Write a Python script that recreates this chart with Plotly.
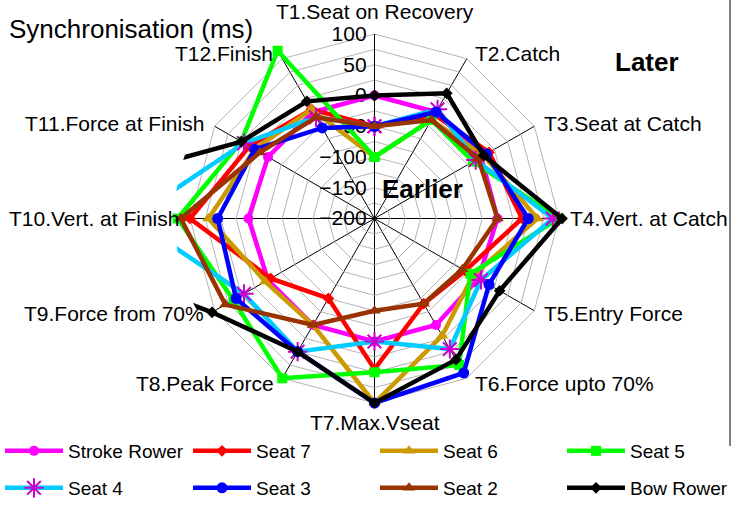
import math
import plotly.graph_objects as go

# ---------------- data ----------------
categories = ["T1.Seat on Recovery", "T2.Catch", "T3.Seat at Catch", "T4.Vert. at Catch",
              "T5.Entry Force", "T6.Force upto 70%", "T7.Max.Vseat", "T8.Peak Force",
              "T9.Force from 70%", "T10.Vert. at Finish", "T11.Force at Finish", "T12.Finish"]

radial_tickvals = [-200, -175, -150, -125, -100, -75, -50, -25, 0, 25, 50, 75, 100]
radial_ticktext = ["\u2212200", "", "\u2212150", "", "\u2212100", "", "\u221250", "", "0", "", "50", "", "100"]

series_names = ["Stroke Rower", "Seat 7", "Seat 6", "Seat 5", "Seat 4", "Seat 3", "Seat 2", "Bow Rower"]

stroke_rower = [0, 0, 0, 0, -5, 0, 0, 0, 0, 5, 0, 0]
seat7 = [-50, -5, 15, 40, -30, -40, 45, -50, -5, 100, 35, 5]
seat6 = [-100, -15, 5, 65, -15, 20, 100, 0, 5, 70, 25, 5]
seat5 = [-100, -15, -15, 100, -20, 75, 50, 100, 65, 120, 50, 115]
seat4 = [-50, 5, -10, 90, 0, 45, 0, 50, 45, 195, 45, -10]
seat3 = [-50, 0, 10, 50, 15, 90, 100, 50, 60, 55, 25, -30]
seat2 = [-50, -15, -5, 0, -35, -40, -50, 0, 80, 115, 15, -10]
bow_rower = [0, 35, 5, 105, 35, 65, 100, 50, 105, 470, 50, 20]

series_values = [stroke_rower, seat7, seat6, seat5, seat4, seat3, seat2, bow_rower]

# ---------------- styles ----------------
line_colors = ["#FF00FF", "#FF0000", "#CC9900", "#00FF00", "#00CCFF", "#0000FF", "#993300", "#000000"]
marker_colors = ["#FF00FF", "#FF0000", "#CC9900", "#00FF00", "#CC00CC", "#0000FF", "#993300", "#000000"]
marker_symbols = ["circle", "diamond", "triangle-up", "square", "asterisk-open", "circle", "triangle-up", "diamond"]
marker_sizes = [10, 9, 11, 10, 16, 11, 11, 9]

W, H = 739, 511
FONT = "Arial, Liberation Sans, sans-serif"
cx, cy = 374.5, 218.5
R1 = 184.5   # radius of the grid (value 100)
R2 = 200.0   # clip radius for data lines
rmin, rmax = -200, 100
rmax2 = rmin + R2 * (rmax - rmin) / R1


def domain(R):
    return dict(x=[(cx - R) / W, (cx + R) / W], y=[(H - cy - R) / H, (H - cy + R) / H])


def px(x, y):
    return x / W, (H - y) / H


fig = go.Figure()

# anchor trace for the grid subplot (invisible)
fig.add_trace(go.Scatterpolar(r=stroke_rower, theta=categories, mode="lines", opacity=0,
                              showlegend=False, hoverinfo="skip", subplot="polar"))

legend_cols = [0, 188, 375, 562]
legend_rows = [451, 488]

for i, (name, vals) in enumerate(zip(series_names, series_values)):
    lg = "legend" if i == 0 else f"legend{i + 1}"
    fig.add_trace(go.Scatterpolar(
        r=vals + vals[:1], theta=categories + categories[:1],
        mode="lines+markers", name=name, subplot="polar2", legend=lg,
        line=dict(color=line_colors[i], width=4.5),
        marker=dict(symbol=marker_symbols[i], size=marker_sizes[i], color=marker_colors[i],
                    line=dict(width=2 if "open" in marker_symbols[i] else 0, color=marker_colors[i])),
    ))

layout_legends = {}
for i in range(8):
    key = "legend" if i == 0 else f"legend{i + 1}"
    lx, ly = px(legend_cols[i % 4], legend_rows[i // 4])
    layout_legends[key] = dict(
        x=lx, y=ly, xanchor="left", yanchor="middle",
        bgcolor="rgba(0,0,0,0)", borderwidth=0, font=dict(family=FONT, size=19, color="black"),
        itemwidth=58,
    )

# category labels placed just outside the outer ring
annotations = []
n = len(categories)
R_lab = 190.0
for i, lab in enumerate(categories):
    th = 2 * math.pi * i / n
    sx, sy = math.sin(th), -math.cos(th)
    x, y = cx + R_lab * sx, cy + R_lab * sy
    if abs(sx) < 1e-6:
        xa = "center"
        ya = "bottom" if sy < 0 else "top"
        y = y - 4 if sy < 0 else y + 1
    else:
        xa = "left" if sx > 0 else "right"
        ya = "middle"
        x = x + 4 if sx > 0 else x - 5
    ax, ay = px(x, y)
    annotations.append(dict(text=lab, x=ax, y=ay, xref="paper", yref="paper", xanchor=xa, yanchor=ya,
                            showarrow=False, borderpad=0,
                            font=dict(family=FONT, size=21, color="black")))

tx, ty = px(8, 29)
lx_, ly_ = px(647, 62)
ex, ey = px(422, 189)
annotations += [
    dict(text="Synchronisation (ms)", x=tx, y=ty, xref="paper", yref="paper",
         xanchor="left", yanchor="middle", showarrow=False, borderpad=0,
         font=dict(family=FONT, size=26, color="black")),
    dict(text="<b>Later</b>", x=lx_, y=ly_, xref="paper", yref="paper",
         xanchor="center", yanchor="middle", showarrow=False,
         font=dict(family=FONT, size=26, color="black")),
    dict(text="<b>Earlier</b>", x=ex, y=ey, xref="paper", yref="paper",
         xanchor="center", yanchor="middle", showarrow=False,
         font=dict(family=FONT, size=26, color="black")),
]

fig.update_layout(
    width=W, height=H, margin=dict(l=0, r=0, t=0, b=0),
    paper_bgcolor="white", plot_bgcolor="white",
    font=dict(family=FONT, color="black"),
    polar=dict(
        domain=domain(R1), bgcolor="white", gridshape="linear",
        radialaxis=dict(range=[rmin, rmax], tickvals=radial_tickvals, ticktext=radial_ticktext,
                        tickfont=dict(size=21, family=FONT, color="black"), gridcolor="#B4B4B4",
                        gridwidth=1, showline=True, linecolor="black", linewidth=1, ticks="",
                        angle=90, side="counterclockwise", tickangle=90),
        angularaxis=dict(type="category", categoryarray=categories, direction="clockwise",
                         rotation=90, gridcolor="black", gridwidth=1, showline=True,
                         linecolor="#B4B4B4", linewidth=1, ticks="", showticklabels=False),
    ),
    polar2=dict(
        domain=domain(R2), bgcolor="rgba(0,0,0,0)",
        radialaxis=dict(range=[rmin, rmax2], visible=False),
        angularaxis=dict(type="category", categoryarray=categories, direction="clockwise",
                         rotation=90, visible=False),
    ),
    annotations=annotations,
    shapes=[dict(type="line", xref="paper", yref="paper", x0=730 / W, x1=730 / W,
                 y0=(H - 446) / H, y1=1, line=dict(color="black", width=1))],
    **layout_legends,
)

fig.write_html("out.html", config={"displayModeBar": False},
               post_script="document.body.style.margin='0px';")
